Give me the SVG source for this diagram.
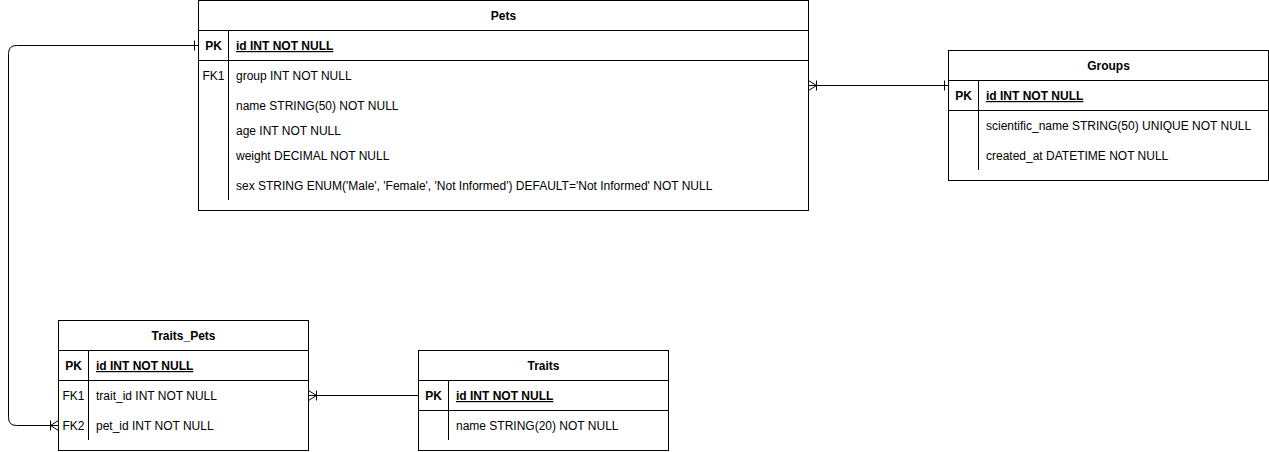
<svg xmlns="http://www.w3.org/2000/svg" width="1269" height="452" viewBox="0 0 1269 452">
<style>
.box{fill:#fff;stroke:#000;stroke-width:1}
.ln{stroke:#000;stroke-width:1;fill:none}
text{font-family:"Liberation Sans",Arial,sans-serif;font-size:12px;fill:#000}
.t{text-anchor:middle;font-weight:bold}
.k{text-anchor:middle}
.b{font-weight:bold}
.pk{font-weight:bold;text-decoration:underline}
</style>
<rect width="1269" height="452" fill="#fff"/>
<g id="connectors">
  <!-- Pets.group -> Groups.id -->
  <path class="ln" d="M808.5,85.5 H948.5"/>
  <path class="ln" d="M808.5,80.5 L816.5,85.5 L808.5,90.5 M816.5,80.5 V90.5"/>
  <path class="ln" d="M944.5,80.5 V90.5"/>
  <!-- Pets.id -> Traits_Pets.pet_id -->
  <path class="ln" d="M198.5,45.5 H16.5 Q8.5,45.5 8.5,53.5 V417.5 Q8.5,425.5 16.5,425.5 H58.5"/>
  <path class="ln" d="M194.5,40.5 V50.5"/>
  <path class="ln" d="M58.5,420.5 L50.5,425.5 L58.5,430.5 M50.5,420.5 V430.5"/>
  <!-- Traits_Pets.trait_id -> Traits.id -->
  <path class="ln" d="M308.5,395.5 H418.5"/>
  <path class="ln" d="M308.5,390.5 L316.5,395.5 L308.5,400.5 M316.5,390.5 V400.5"/>
</g>
<g id="pets">
  <rect class="box" x="198.5" y="0.5" width="610" height="210"/>
  <path class="ln" d="M198.5,30.5 H808.5 M198.5,60.5 H808.5 M228.5,30.5 V200"/>
  <text class="t" x="503.5" y="20">Pets</text>
  <text class="k b" x="213.5" y="50">PK</text>
  <text class="pk" x="236" y="50">id INT NOT NULL</text>
  <text class="k" x="213.5" y="80">FK1</text>
  <text x="236" y="80">group INT NOT NULL</text>
  <text x="236" y="110">name STRING(50) NOT NULL</text>
  <text x="236" y="135">age INT NOT NULL</text>
  <text x="236" y="160">weight DECIMAL NOT NULL</text>
  <text x="236" y="190">sex STRING ENUM('Male', 'Female', 'Not Informed') DEFAULT='Not Informed' NOT NULL</text>
</g>
<g id="groups">
  <rect class="box" x="948.5" y="50.5" width="320" height="130"/>
  <path class="ln" d="M948.5,80.5 H1268.5 M948.5,110.5 H1268.5 M978.5,80.5 V170"/>
  <text class="t" x="1108.5" y="70">Groups</text>
  <text class="k b" x="963.5" y="100">PK</text>
  <text class="pk" x="986" y="100">id INT NOT NULL</text>
  <text x="986" y="130">scientific_name STRING(50) UNIQUE NOT NULL</text>
  <text x="986" y="160">created_at DATETIME NOT NULL</text>
</g>
<g id="traits_pets">
  <rect class="box" x="58.5" y="320.5" width="250" height="130"/>
  <path class="ln" d="M58.5,350.5 H308.5 M58.5,380.5 H308.5 M88.5,350.5 V440"/>
  <text class="t" x="183.5" y="340">Traits_Pets</text>
  <text class="k b" x="73.5" y="370">PK</text>
  <text class="pk" x="96" y="370">id INT NOT NULL</text>
  <text class="k" x="73.5" y="400">FK1</text>
  <text x="96" y="400">trait_id INT NOT NULL</text>
  <text class="k" x="73.5" y="430">FK2</text>
  <text x="96" y="430">pet_id INT NOT NULL</text>
</g>
<g id="traits">
  <rect class="box" x="418.5" y="350.5" width="250" height="100"/>
  <path class="ln" d="M418.5,380.5 H668.5 M418.5,410.5 H668.5 M448.5,380.5 V440"/>
  <text class="t" x="543.5" y="370">Traits</text>
  <text class="k b" x="433.5" y="400">PK</text>
  <text class="pk" x="456" y="400">id INT NOT NULL</text>
  <text x="456" y="430">name STRING(20) NOT NULL</text>
</g>
</svg>
